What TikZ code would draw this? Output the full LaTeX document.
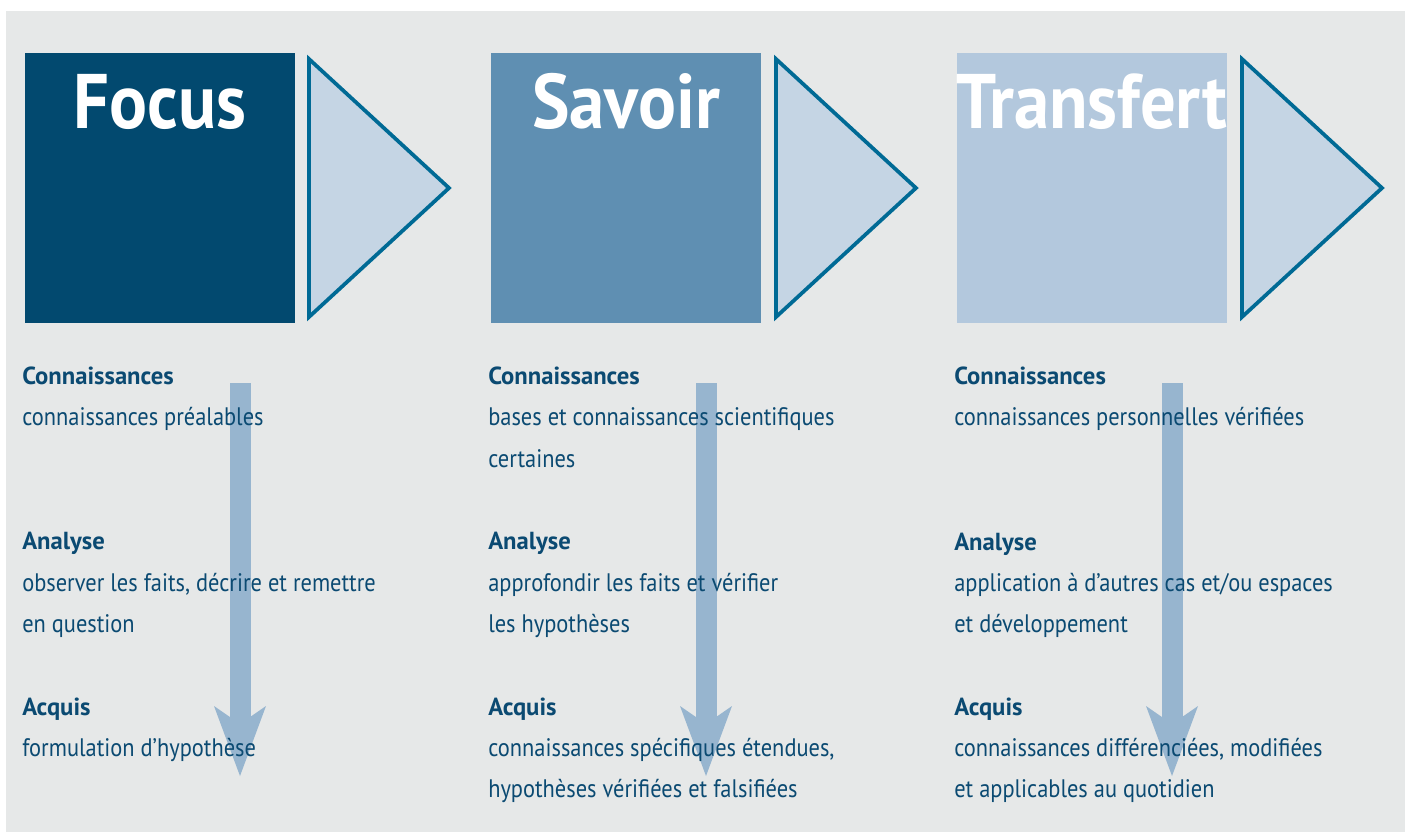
\documentclass[tikz,border=0pt]{standalone}
\usepackage{fontspec}
\setmainfont{PT Sans}[FakeStretch=0.885]
\newfontfamily\titlefont{PT Sans}[FakeStretch=0.915]
\newfontfamily\headfont{PT Sans}
\usetikzlibrary{arrows.meta,positioning}

\definecolor{bggrey}{HTML}{E6E8E8}
\definecolor{focusblue}{HTML}{02496F}
\definecolor{savoirblue}{HTML}{5F8FB2}
\definecolor{transfertblue}{HTML}{B3C8DD}
\definecolor{trifill}{HTML}{C5D5E4}
\definecolor{tristroke}{HTML}{006A95}
\definecolor{flowblue}{HTML}{97B5CF}
\definecolor{textblue}{HTML}{0B4A72}

\begin{document}
\begin{tikzpicture}[
    x=0.75pt, y=-0.75pt,
    stage/.style={rectangle, inner sep=0pt, minimum size=202.5pt},
    title/.style={anchor=base, inner sep=0pt, text=white, font=\titlefont\bfseries\fontsize{58}{60}\selectfont},
    tri/.style={draw=tristroke, fill=trifill, line width=2.8pt, line join=miter},
    head/.style={anchor=base west, inner sep=0pt, text=textblue, font=\headfont\bfseries\fontsize{18.5}{20}\selectfont},
    body/.style={anchor=base west, inner sep=0pt, text=textblue, font=\fontsize{19}{21}\selectfont},
    flow/.style={draw=flowblue, line width=15.75pt, -{Stealth[length=52.5pt, width=39pt, inset=13.5pt, line width=0pt]}}
]

\useasboundingbox (0,0) rectangle (1408,832);
\fill[bggrey] (6,11) rectangle (1405,832);




\node[stage, fill=focusblue] (focus) at (160,188) {};
\node[title] (focust) at (160,128) {Focus};
\draw[tri] (309,59) -- (309,317) -- (449,188) -- cycle;

\node[stage, fill=savoirblue] (savoir) at (626,188) {};
\node[title] (savoirt) at (626,128) {Savoir};
\draw[tri] (776,59) -- (776,317) -- (916,188) -- cycle;

\node[stage, fill=transfertblue] (transfert) at (1092,188) {};
\node[title] (transfertt) at (1092,128) {Transfert};
\draw[tri] (1242,59) -- (1242,317) -- (1382,188) -- cycle;




\coordinate (top1) at (240,383);
\coordinate (tip1) at (240,776);
\draw[flow] (top1) -- (tip1);

\coordinate (top2) at (706,383);
\coordinate (tip2) at (706,776);
\draw[flow] (top2) -- (tip2);

\coordinate (top3) at (1172,383);
\coordinate (tip3) at (1172,776);
\draw[flow] (top3) -- (tip3);




\node[head] (k1) at (22,384) {Connaissances};
\node[body] (k1a) at (22,425) {connaissances préalables};
\node[head] (a1) at (22,549) {Analyse};
\node[body] (a1a) at (22,591) {observer les faits, décrire et remettre};
\node[body] (a1b) at (22,632) {en question};
\node[head] (q1) at (22,715) {Acquis};
\node[body] (q1a) at (22,756) {formulation d’hypothèse};




\node[head] (k2) at (488,384) {Connaissances};
\node[body] (k2a) at (488,425) {bases et connaissances scientifiques};
\node[body] (k2b) at (488,467) {certaines};
\node[head] (a2) at (488,549) {Analyse};
\node[body] (a2a) at (488,591) {approfondir les faits et vérifier};
\node[body] (a2b) at (488,632) {les hypothèses};
\node[head] (q2) at (488,715) {Acquis};
\node[body] (q2a) at (488,756) {connaissances spécifiques étendues,};
\node[body] (q2b) at (488,797) {hypothèses vérifiées et falsifiées};




\node[head] (k3) at (954,384) {Connaissances};
\node[body] (k3a) at (954,425) {connaissances personnelles vérifiées};
\node[head] (a3) at (954,550) {Analyse};
\node[body] (a3a) at (954,591) {application à d’autres cas et/ou espaces};
\node[body] (a3b) at (954,632) {et développement};
\node[head] (q3) at (954,715) {Acquis};
\node[body] (q3a) at (954,756) {connaissances différenciées, modifiées};
\node[body] (q3b) at (954,797) {et applicables au quotidien};

\end{tikzpicture}
\end{document}
